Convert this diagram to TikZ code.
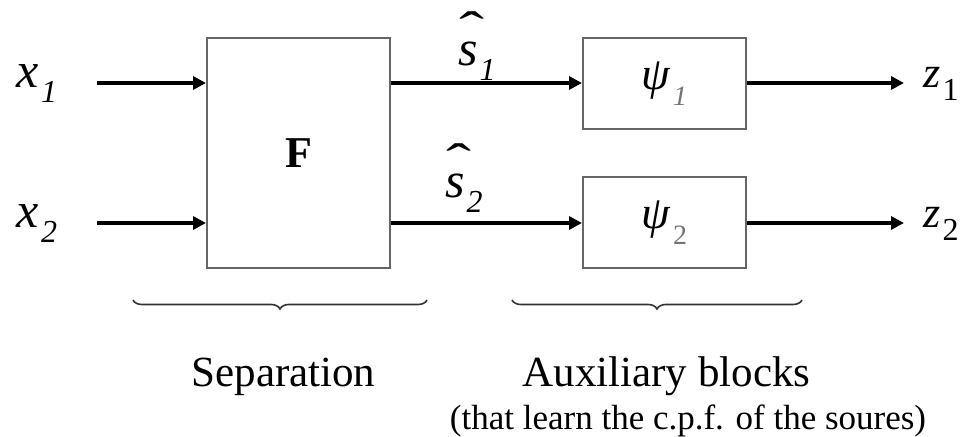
\documentclass[tikz,border=0pt]{standalone}
\usepackage{fontspec}
\setmainfont{Liberation Serif}
\usetikzlibrary{positioning,arrows.meta,decorations.pathreplacing}

\newcommand{\subfnt}{\fontsize{16}{16}\selectfont}
% italic symbol with a lowered subscript
\newcommand{\symsub}[2]{\textit{#1}\kern1pt\raisebox{-0.3em}{\subfnt\textit{#2}}}
% s with a high hat
\newcommand{\shat}[1]{\makebox[0pt][l]{\kern0.02em\raisebox{0.38em}{\scalebox{1.5}[1]{ˆ}}}\symsub{s}{#1}}

\begin{document}
\begin{tikzpicture}[
  x=0.5pt, y=-0.5pt,
  blk/.style={
    rectangle, draw=black!60, line width=1pt, fill=white,
    inner sep=0pt
  },
  sep/.style={blk, minimum width=91.5pt, minimum height=115pt},
  aux/.style={blk, minimum width=81.5pt, minimum height=45.5pt},
  sym/.style={inner sep=0pt, font=\fontsize{25}{25}\selectfont},
  captxt/.style={inner sep=0pt, anchor=base, font=\fontsize{21.5}{24}\selectfont},
  arr/.style={-{Triangle[length=6.5pt,width=6.5pt]}, line width=2pt},
  brc/.style={decorate, decoration={brace, mirror, amplitude=4.5pt},
    line width=0.8pt, draw=black!80}
]

\useasboundingbox (0,0) rectangle (965,437);

% blocks
\node[sep] (F) at (298.5,153) {\fontsize{22}{22}\selectfont\textbf{F}};
\node[aux] (psi1) at (664.5,83.5)
  {\fontsize{23}{23}\selectfont\textit{ψ}\kern1pt\raisebox{-0.35em}{\fontsize{14}{14}\selectfont\color{black!55}\textit{1}}};
\node[aux] (psi2) at (664.5,223)
  {\fontsize{23}{23}\selectfont\textit{ψ}\kern1pt\raisebox{-0.35em}{\fontsize{14}{14}\selectfont\color{black!55}2}};

% signal labels
\node[sym] (s1) at (477,46) {\shat{1}};
\node[sym] (s2) at (464,178) {\shat{2}};
\node[sym] (x1) at (37,84) {\symsub{x}{1}};
\node[sym] (x2) at (37,224) {\symsub{x}{2}};
\node[sym, font=\fontsize{22}{22}\selectfont] (z1) at (941,84)
  {\textit{z}\kern1pt\raisebox{-0.3em}{\subfnt 1}};
\node[sym, font=\fontsize{22}{22}\selectfont] (z2) at (941,224)
  {\textit{z}\kern1pt\raisebox{-0.3em}{\subfnt 2}};

\coordinate (i1) at (97,83);
\coordinate (i2) at (97,223);
\coordinate (o1) at (904,83);
\coordinate (o2) at (904,223);

% connectors
\draw[arr] (i1) -- (i1 -| F.west);
\draw[arr] (i2) -- (i2 -| F.west);
\draw[arr] (i1 -| F.east) -- (i1 -| psi1.west);
\draw[arr] (i2 -| F.east) -- (i2 -| psi2.west);
\draw[arr] (psi1.east |- o1) -- (o1);
\draw[arr] (psi2.east |- o2) -- (o2);

% braces and captions
\coordinate (b1l) at (133,300);
\coordinate (b1r) at (427,300);
\coordinate (b2l) at (512,300);
\coordinate (b2r) at (802,300);
\draw[brc] (b1l) -- (b1r);
\draw[brc] (b2l) -- (b2r);

\node[captxt] (sepl) at (283.5,387) {Separation};
\node[captxt] (auxl) at (666.5,387) {Auxiliary blocks};
\node[captxt, font=\fontsize{17.5}{20}\selectfont] (auxn) at (688,430)
  {(that learn the c.p.f. of the soures)};

\end{tikzpicture}
\end{document}
